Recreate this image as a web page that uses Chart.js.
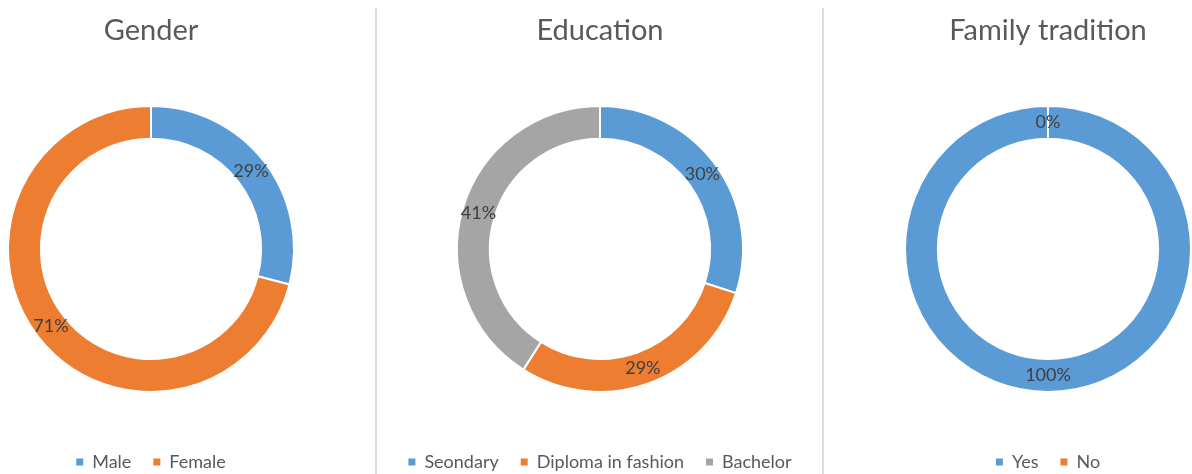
<!DOCTYPE html>
<html>
<head>
<meta charset="utf-8">
<script src="https://cdn.jsdelivr.net/npm/chart.js@4.4.0/dist/chart.umd.min.js"></script>
<style>
    html, body { margin: 0; padding: 0; background: #fff; overflow: hidden; }
    body { width: 1192px; height: 474px; position: relative; }
    .box { position: absolute; top: 0; height: 481px; }
    .sep { position: absolute; top: 8px; width: 2px; height: 466px; background: #dcdcdc; }
</style>
</head>
<body>
<div class="box" style="left:0;width:302px"><canvas id="genderChart"></canvas></div>
<div class="sep" style="left:375px"></div>
<div class="box" style="left:377px;width:446px"><canvas id="educationChart"></canvas></div>
<div class="sep" style="left:822px"></div>
<div class="box" style="left:904px;width:288px"><canvas id="familyChart"></canvas></div>
<script>
    // Survey breakdowns (percent)
    const genderLabels = ['Male', 'Female'];
    const genderValues = [29, 71];

    const educationLabels = ['Seondary', 'Diploma in fashion', 'Bachelor'];
    const educationValues = [30, 29, 41];

    const familyLabels = ['Yes', 'No'];
    const familyValues = [100, 0];

    const palette = ['#5b9bd5', '#ed7d31', '#a5a5a5'];
    const fontFamily = 'Lato, "Open Sans", sans-serif';

    // Percent labels centred on each ring segment
    const sliceLabels = {
        id: 'sliceLabels',
        afterDatasetsDraw(chart) {
            const ctx = chart.ctx;
            const meta = chart.getDatasetMeta(0);
            const values = chart.data.datasets[0].data;
            ctx.save();
            ctx.font = '18px ' + fontFamily;
            ctx.fillStyle = '#404040';
            ctx.textAlign = 'center';
            ctx.textBaseline = 'middle';
            meta.data.forEach((arc, i) => {
                const p = arc.tooltipPosition();
                ctx.fillText(values[i] + '%', p.x, p.y);
            });
            ctx.restore();
        }
    };

    function makeDoughnut(id, title, labels, values) {
        const ctx = document.getElementById(id).getContext('2d');
        return new Chart(ctx, {
            type: 'doughnut',
            data: {
                labels: labels,
                datasets: [{
                    data: values,
                    backgroundColor: palette.slice(0, labels.length),
                    borderColor: '#ffffff',
                    borderWidth: 2
                }]
            },
            options: {
                responsive: true,
                maintainAspectRatio: false,
                animation: false,
                radius: 143,
                cutout: '77%',
                plugins: {
                    title: {
                        display: true,
                        text: title,
                        color: '#595959',
                        font: { family: fontFamily, size: 29, weight: 'normal' },
                        padding: { top: 13, bottom: 19 }
                    },
                    legend: {
                        position: 'bottom',
                        labels: {
                            color: '#595959',
                            font: { family: fontFamily, size: 18 },
                            boxWidth: 7,
                            boxHeight: 7,
                            padding: 22,
                            generateLabels(chart) {
                                const items = Chart.overrides.doughnut.plugins.legend.labels.generateLabels(chart);
                                items.forEach(item => { item.lineWidth = 0; });
                                return items;
                            }
                        }
                    },
                    tooltip: { enabled: false }
                }
            },
            plugins: [sliceLabels]
        });
    }

    makeDoughnut('genderChart', 'Gender', genderLabels, genderValues);
    makeDoughnut('educationChart', 'Education', educationLabels, educationValues);
    makeDoughnut('familyChart', 'Family tradition', familyLabels, familyValues);
</script>
</body>
</html>
